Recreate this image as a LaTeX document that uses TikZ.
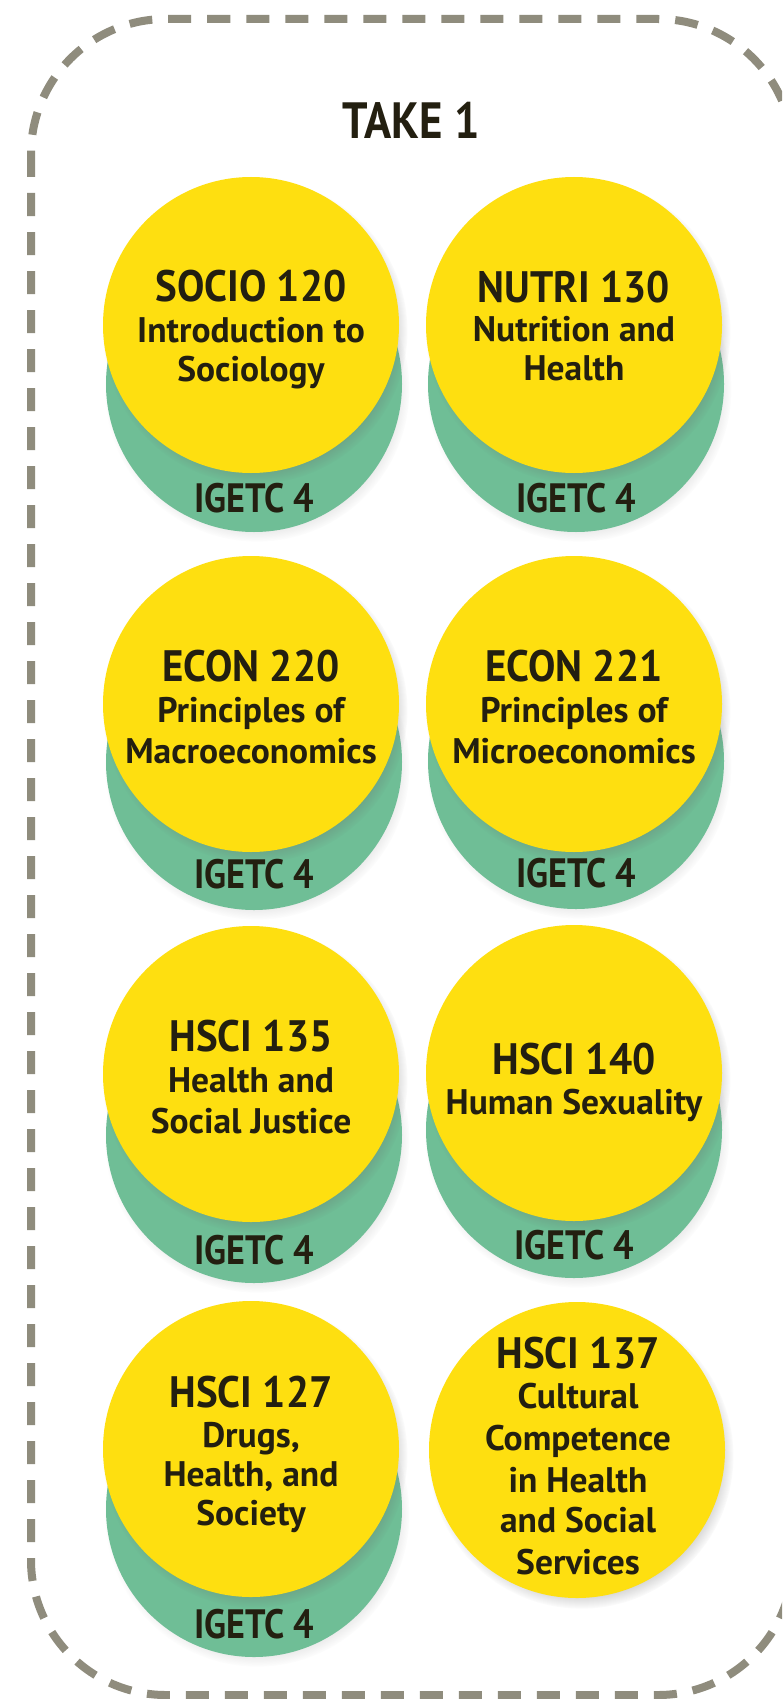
\documentclass[tikz,border=0pt]{standalone}
\usepackage{fontspec}
\setmainfont{PT Sans}
\newfontfamily\condfont{PT Sans}[FakeStretch=0.88]
\newfontfamily\semicondfont{PT Sans}[FakeStretch=0.93]
\usetikzlibrary{shadows,fadings}
\definecolor{myyellow}{RGB}{254,223,16}
\definecolor{mygreen}{RGB}{111,190,150}
\definecolor{dashgray}{RGB}{143,140,125}
\definecolor{ink}{RGB}{35,31,16}
\tikzset{
  border/.style={draw=dashgray, line width=8pt, dash pattern=on 23pt off 16pt, rounded corners=135pt},
  ydisc/.style={circle, fill=myyellow, minimum size=296pt, inner sep=0pt,
    circular drop shadow={shadow xshift=4pt, shadow yshift=-6pt, shadow scale=1.03, opacity=0.45, fill=black!60}},
  gdisc/.style={circle, fill=mygreen, minimum size=296pt, inner sep=0pt,
    circular drop shadow={shadow xshift=3pt, shadow yshift=-5pt, shadow scale=1.03, opacity=0.3, fill=black!50}},
  txt/.style={text=ink, anchor=base, inner sep=0pt},
  codetxt/.style={txt, font=\semicondfont\bfseries\fontsize{44}{44}\selectfont},
  bodytxt/.style={txt, font=\bfseries\fontsize{35.5}{35.5}\selectfont},
  igtxt/.style={txt, font=\condfont\bfseries\fontsize{41}{41}\selectfont},
  titletxt/.style={txt, font=\condfont\bfseries\fontsize{51}{51}\selectfont}
}
\begin{document}
\begin{tikzpicture}[x=1pt, y=-1pt]
\useasboundingbox (0,0) rectangle (782,1699);
\clip (0,0) rectangle (782,1699);
\fill[white] (0,0) rectangle (782,1699);
\draw[border] (31,19) rectangle (793,1695);
\node[titletxt] (title) at (411,139) {TAKE 1};
% row 1
\node[gdisc] (g1) at (254,384) {};
\node[ydisc] (y1) at (251,325) {};
\node[codetxt] (c1) at (251,301) {SOCIO 120};
\node[bodytxt] (c1a) at (251,342) {Introduction to};
\node[bodytxt] (c1b) at (251,381) {Sociology};
\node[igtxt] (i1) at (254,512) {IGETC 4};
\node[gdisc] (g2) at (576,384) {};
\node[ydisc] (y2) at (574,325) {};
\node[codetxt] (c2) at (574,302) {NUTRI 130};
\node[bodytxt] (c2a) at (574,341) {Nutrition and};
\node[bodytxt] (c2b) at (574,380) {Health};
\node[igtxt] (i2) at (576,512) {IGETC 4};
% row 2
\node[gdisc] (g3) at (254,762) {};
\node[ydisc] (y3) at (251,704) {};
\node[codetxt] (c3) at (251,681) {ECON 220};
\node[bodytxt] (c3a) at (251,722) {Principles of};
\node[bodytxt] (c3b) at (251,763) {Macroeconomics};
\node[igtxt] (i3) at (254,888) {IGETC 4};
\node[gdisc] (g4) at (576,761) {};
\node[ydisc] (y4) at (574,704) {};
\node[codetxt] (c4) at (574,681) {ECON 221};
\node[bodytxt] (c4a) at (574,722) {Principles of};
\node[bodytxt] (c4b) at (574,763) {Microeconomics};
\node[igtxt] (i4) at (576,887) {IGETC 4};
% row 3
\node[gdisc] (g5) at (254,1135) {};
\node[ydisc] (y5) at (251,1074) {};
\node[codetxt] (c5) at (251,1051) {HSCI 135};
\node[bodytxt] (c5a) at (251,1092) {Health and};
\node[bodytxt] (c5b) at (251,1133) {Social Justice};
\node[igtxt] (i5) at (254,1264) {IGETC 4};
\node[gdisc] (g6) at (574,1130) {};
\node[ydisc] (y6) at (574,1073) {};
\node[codetxt] (c6) at (574,1074) {HSCI 140};
\node[bodytxt] (c6a) at (574,1114) {Human Sexuality};
\node[igtxt] (i6) at (574,1259) {IGETC 4};
% row 4
\node[gdisc] (g7) at (254,1509) {};
\node[ydisc] (y7) at (251,1449) {};
\node[codetxt] (c7) at (251,1407) {HSCI 127};
\node[bodytxt] (c7a) at (251,1447) {Drugs,};
\node[bodytxt] (c7b) at (251,1486) {Health, and};
\node[bodytxt] (c7c) at (251,1525) {Society};
\node[igtxt] (i7) at (254,1638) {IGETC 4};
\node[ydisc] (y8) at (577,1450) {};
\node[codetxt] (c8) at (578,1368) {HSCI 137};
\node[bodytxt] (c8a) at (578,1408) {Cultural};
\node[bodytxt] (c8b) at (578,1450) {Competence};
\node[bodytxt] (c8c) at (578,1492) {in Health};
\node[bodytxt] (c8d) at (578,1532) {and Social};
\node[bodytxt] (c8e) at (578,1574) {Services};
\end{tikzpicture}
\end{document}
